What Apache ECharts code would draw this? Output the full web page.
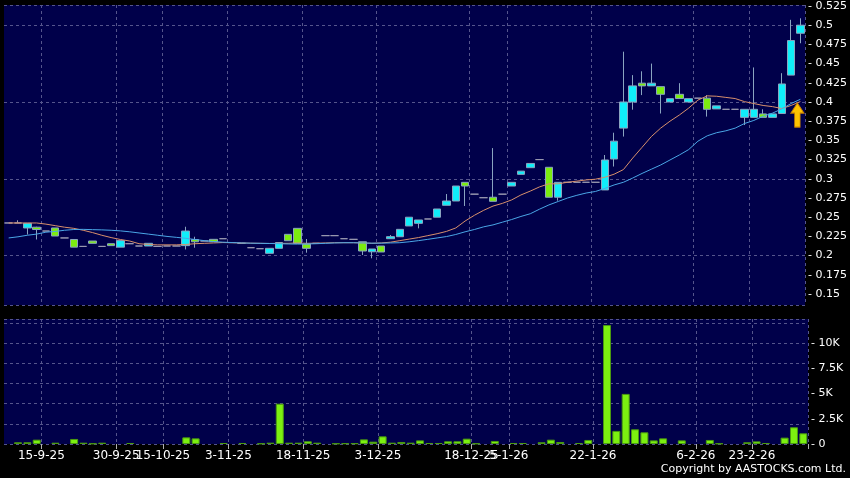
<!DOCTYPE html>
<html><head><meta charset="utf-8">
<script src="https://cdn.jsdelivr.net/npm/echarts@6/dist/echarts.min.js"></script>
<style>html,body{margin:0;padding:0;background:#000;}#c{width:850px;height:478px;}</style>
</head><body><div id="c"></div>
<script>
// ---- data ----
const categories = Array.from({length: 86}, (_, i) => 'd' + i);
const tickIndex = [4, 12, 17, 24, 32, 40, 50, 54, 63, 74, 80];
const tickLabels = ['15-9-25', '30-9-25', '15-10-25', '3-11-25', '18-11-25', '3-12-25', '18-12-25', '5-1-26', '22-1-26', '6-2-26', '23-2-26'];
const priceTicks = [0.15, 0.175, 0.2, 0.225, 0.25, 0.275, 0.3, 0.325, 0.35, 0.375, 0.4, 0.425, 0.45, 0.475, 0.5, 0.525];
const volumeTicks = [0, 2500, 5000, 7500, 10000];

const open = [0.2425,0.2425,0.236,0.237,0.232,0.236,0.223,0.221,0.212,0.219,
  0.212,0.2155,0.211,0.2155,0.2125,0.2125,0.212,0.2125,0.2125,0.213,
  0.221,0.219,0.2212,0.222,0.217,0.216,0.2103,0.209,0.203,0.2095,
  0.2277,0.2355,0.215,0.216,0.226,0.226,0.222,0.2212,0.218,0.205,
  0.2125,0.222,0.2246,0.2386,0.242,0.2477,0.25,0.2655,0.2711,0.2954,
  0.28,0.2754,0.276,0.28,0.2906,0.3058,0.3145,0.325,0.315,0.276,
  0.2955,0.2955,0.2955,0.2955,0.2855,0.3258,0.366,0.40,0.4245,0.421,
  0.42,0.40,0.41,0.40,0.405,0.405,0.391,0.3905,0.3905,0.38,
  0.38,0.3845,0.38,0.385,0.435,0.4895];
const close = [0.2425,0.2425,0.242,0.234,0.232,0.2255,0.223,0.211,0.212,0.216,
  0.212,0.213,0.2195,0.2155,0.2125,0.216,0.212,0.2125,0.2125,0.232,
  0.218,0.219,0.2181,0.222,0.217,0.216,0.2103,0.209,0.2095,0.217,
  0.2194,0.216,0.2095,0.216,0.226,0.226,0.222,0.2212,0.206,0.2086,
  0.2047,0.2247,0.2342,0.25,0.2464,0.2477,0.2607,0.2711,0.2906,0.2906,
  0.28,0.2754,0.2707,0.28,0.2954,0.31,0.32,0.325,0.276,0.2954,
  0.2955,0.2955,0.2955,0.2955,0.3245,0.349,0.40,0.421,0.421,0.4245,
  0.41,0.4043,0.4045,0.4043,0.405,0.3905,0.395,0.3905,0.3905,0.3905,
  0.3905,0.38,0.3845,0.4235,0.48,0.50];
const low = [0.2425,0.2425,0.2275,0.221,0.232,0.2255,0.223,0.211,0.212,0.216,
  0.212,0.213,0.211,0.2155,0.2125,0.2125,0.212,0.2125,0.2125,0.208,
  0.2103,0.219,0.2181,0.222,0.217,0.216,0.2103,0.209,0.203,0.2095,
  0.2194,0.216,0.2038,0.216,0.226,0.226,0.222,0.2212,0.2008,0.1965,
  0.2047,0.222,0.2246,0.2386,0.2355,0.2477,0.25,0.2655,0.2711,0.2646,
  0.28,0.2754,0.2707,0.28,0.2906,0.3058,0.3145,0.325,0.276,0.2715,
  0.2955,0.2955,0.2955,0.2955,0.2855,0.316,0.355,0.39,0.409,0.421,
  0.385,0.40,0.4045,0.40,0.405,0.381,0.391,0.3905,0.3905,0.37,
  0.38,0.38,0.38,0.385,0.435,0.4765];
const high = [0.2425,0.246,0.242,0.2376,0.232,0.236,0.223,0.221,0.212,0.219,
  0.212,0.2155,0.2195,0.2155,0.2125,0.216,0.212,0.2125,0.2125,0.2376,
  0.2246,0.219,0.2212,0.222,0.217,0.216,0.2103,0.209,0.2095,0.217,
  0.2277,0.2355,0.2216,0.216,0.226,0.226,0.222,0.2212,0.218,0.2086,
  0.2125,0.2268,0.2342,0.25,0.2464,0.2477,0.2607,0.2802,0.2906,0.2954,
  0.28,0.2754,0.34,0.28,0.2954,0.31,0.32,0.325,0.315,0.2954,
  0.2955,0.2955,0.2955,0.2955,0.331,0.36,0.4655,0.435,0.44,0.45,
  0.42,0.4043,0.4245,0.4043,0.405,0.409,0.395,0.3905,0.3905,0.3905,
  0.445,0.3905,0.3845,0.4375,0.507,0.509];
const maShort = [0.2425,0.2425,0.2425,0.2425,0.241,0.239,0.237,0.2355,0.233,0.230,
  0.2265,0.2235,0.221,0.219,0.2155,0.2145,0.214,0.214,0.214,0.2145,
  0.2155,0.216,0.2165,0.217,0.2168,0.2165,0.2162,0.216,0.2158,0.216,
  0.216,0.2165,0.216,0.2162,0.2165,0.2168,0.2168,0.2168,0.2165,0.216,
  0.2165,0.2175,0.2195,0.2215,0.2235,0.226,0.2285,0.2315,0.236,0.245,
  0.2525,0.259,0.2645,0.268,0.2725,0.279,0.284,0.2895,0.2935,0.2935,
  0.2955,0.297,0.2985,0.2995,0.302,0.306,0.312,0.327,0.341,0.355,
  0.366,0.375,0.383,0.392,0.4025,0.408,0.4075,0.406,0.4045,0.4005,
  0.398,0.3955,0.394,0.3915,0.3955,0.4005];
const maLong = [0.223,0.2245,0.2265,0.228,0.2305,0.2315,0.233,0.234,0.2342,0.2338,
  0.2335,0.233,0.2322,0.231,0.2295,0.228,0.2265,0.225,0.2238,0.2225,
  0.221,0.2195,0.2183,0.2175,0.217,0.2165,0.2162,0.216,0.2158,0.2155,
  0.2152,0.215,0.2152,0.2155,0.216,0.2165,0.2168,0.2168,0.2165,0.2162,
  0.2162,0.2165,0.2168,0.218,0.2195,0.2212,0.223,0.2248,0.2275,0.231,
  0.234,0.2375,0.240,0.2435,0.247,0.251,0.2545,0.2605,0.266,0.2705,
  0.275,0.2785,0.2815,0.2835,0.2875,0.292,0.2955,0.301,0.307,0.3125,
  0.318,0.3245,0.331,0.338,0.349,0.356,0.36,0.3625,0.366,0.372,
  0.376,0.3815,0.3855,0.391,0.398,0.4035];
const volume = [0,170,170,430,0,130,0,500,130,50,
  130,0,0,100,0,0,0,0,0,660,
  560,0,0,100,0,100,0,50,130,4000,
  130,130,270,130,0,50,70,70,460,230,
  760,130,200,130,360,100,100,270,270,530,
  50,0,300,0,100,100,0,170,430,200,
  0,100,400,0,11800,1300,4970,1460,1160,360,
  560,0,360,0,0,400,50,0,0,170,
  260,100,0,630,1660,1060];
const signalIndex = 85, signalPrice = 0.383;

// ---- chart ----
const candleData = open.map((o, i) => [o, close[i], low[i], high[i]]);
const volumeData = volume.map(v => (v > 0 ? v : null));
const isTick = (i) => tickIndex.indexOf(i) >= 0;
const gridLine = { color: '#55558c', width: 1, type: [3, 3] };
const labelFont = 'DejaVu Sans';

const chart = echarts.init(document.getElementById('c'), null, { renderer: 'canvas' });
chart.setOption({
  backgroundColor: '#000000',
  animation: false,
  grid: [
    { left: 4, right: 42, top: 5, height: 300, show: true, backgroundColor: '#00004a', borderWidth: 0 },
    { left: 4, right: 42, top: 319, height: 125, show: true, backgroundColor: '#00004a', borderWidth: 0 }
  ],
  xAxis: [
    { type: 'category', gridIndex: 0, data: categories, boundaryGap: true,
      axisLine: { show: false }, axisTick: { show: false }, axisLabel: { show: false },
      splitLine: { show: true, interval: isTick, lineStyle: gridLine } },
    { type: 'category', gridIndex: 1, data: categories, boundaryGap: true,
      axisLine: { show: false },
      axisTick: { show: true, interval: isTick, length: 5, lineStyle: { color: '#b0b0b0' } },
      axisLabel: { show: true, interval: isTick, color: '#ffffff', fontSize: 12, fontFamily: labelFont,
        margin: 6, padding: [0, 9.34, 0, 0],
        formatter: (v, i) => tickLabels[tickIndex.indexOf(i)] || '' },
      splitLine: { show: true, interval: isTick, lineStyle: gridLine } }
  ],
  yAxis: [
    { type: 'value', gridIndex: 0, position: 'right', min: 0.1357, max: 0.5263,
      axisLine: { show: false }, axisTick: { show: false },
      axisLabel: { customValues: priceTicks, color: '#ffffff', fontSize: 11, fontFamily: labelFont, margin: 3,
        formatter: (v) => '- ' + v },
      splitLine: { show: true, customValues: priceTicks, lineStyle: gridLine } },
    { type: 'value', gridIndex: 1, position: 'right', min: 0, max: 12400,
      axisLine: { show: false }, axisTick: { show: false },
      axisLabel: { customValues: volumeTicks, color: '#ffffff', fontSize: 11, fontFamily: labelFont, margin: 3,
        formatter: (v) => '- ' + (v === 0 ? '0' : (v / 1000) + 'K') },
      splitLine: { show: true, customValues: volumeTicks.slice(1), lineStyle: gridLine } }
  ],
  series: [
    { type: 'candlestick', xAxisIndex: 0, yAxisIndex: 0, data: candleData, barWidth: 8,
      itemStyle: { color: '#10eefa', color0: '#7cec10', borderColor: '#8aa4c0', borderColor0: '#8aa4c0',
        borderColorDoji: '#9a9ab0', borderWidth: 1 },
      markPoint: {
        silent: true,
        symbol: 'path://M6,0 L12,10 L8.5,10 L8.5,24 L3.5,24 L3.5,10 L0,10 Z',
        symbolSize: [13, 24], symbolOffset: [-3, 0],
        label: { show: false },
        itemStyle: { color: '#ffc400', borderColor: '#c88000', borderWidth: 1 },
        data: [{ coord: [categories[signalIndex], signalPrice] }]
      } },
    { type: 'line', xAxisIndex: 0, yAxisIndex: 0, data: maShort, symbol: 'none',
      lineStyle: { color: '#d8906c', width: 1 }, z: 3 },
    { type: 'line', xAxisIndex: 0, yAxisIndex: 0, data: maLong, symbol: 'none',
      lineStyle: { color: '#4aa6e6', width: 1 }, z: 3 },
    { type: 'bar', xAxisIndex: 1, yAxisIndex: 1, data: volumeData, barWidth: 8,
      itemStyle: { color: '#7cf010', borderColor: '#4a9a10', borderWidth: 1 } }
  ],
  graphic: [
    { type: 'text', right: 4, top: 464,
      style: { text: 'Copyright by AASTOCKS.com Ltd.', fill: '#ffffff', font: '11px "DejaVu Sans"' } }
  ]
});
</script></body></html>
